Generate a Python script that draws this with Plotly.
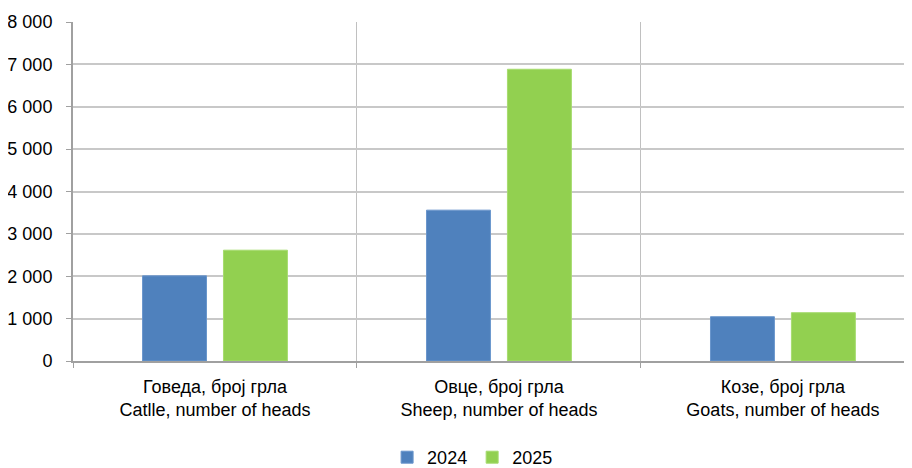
import plotly.graph_objects as go

categories = ["Говеда, број грла<br>Catlle, number of heads",
              "Овце, број грла<br>Sheep, number of heads",
              "Козе, број грла<br>Goats, number of heads"]
series_names = ["2024", "2025"]
values_2024 = [2010, 3560, 1045]
values_2025 = [2615, 6885, 1140]
y_ticks = [0, 1000, 2000, 3000, 4000, 5000, 6000, 7000, 8000]

FONT = "Liberation Sans Narrow, Arial Narrow, Liberation Sans, Arial, sans-serif"

fig = go.Figure()
fig.add_trace(go.Bar(x=categories, y=values_2024, name=series_names[0],
                     marker=dict(color="#4F81BD", line=dict(color="#6A96CC", width=1))))
fig.add_trace(go.Bar(x=categories, y=values_2025, name=series_names[1],
                     marker=dict(color="#92D050", line=dict(color="#A6DB6E", width=1))))

fig.update_layout(
    width=912, height=468,
    margin=dict(l=65, r=11, t=14, b=115, autoexpand=False),
    paper_bgcolor="white", plot_bgcolor="white",
    barmode="group", bargap=0.43, bargroupgap=0.21,
    separators=". ",
    font=dict(family=FONT, size=18, color="#000000"),
    showlegend=True,
    legend=dict(orientation="h", x=0.478, xanchor="center", yref="container",
                y=-0.007, yanchor="bottom",
                font=dict(family=FONT, size=18), itemwidth=30, traceorder="normal"),
    xaxis=dict(range=[-0.5, 2.444], tickson="boundaries", showgrid=True,
               gridcolor="#C0C0C0", gridwidth=1,
               showline=True, linecolor="#A0A0A0", linewidth=2,
               ticks="outside", ticklen=5, tickcolor="#A0A0A0",
               ticklabelstandoff=8, automargin=False,
               tickfont=dict(family=FONT, size=18), fixedrange=True),
    yaxis=dict(range=[0, 8000], tickvals=y_ticks, tickformat=",d",
               showgrid=True, gridcolor="#C8C8C8", gridwidth=1.5,
               showline=True, linecolor="#A0A0A0", linewidth=2,
               ticks="outside", ticklen=5, tickcolor="#A0A0A0",
               ticklabelstandoff=10, automargin=False,
               zeroline=False, tickfont=dict(family=FONT, size=18)),
)

fig.write_html("out.html")
